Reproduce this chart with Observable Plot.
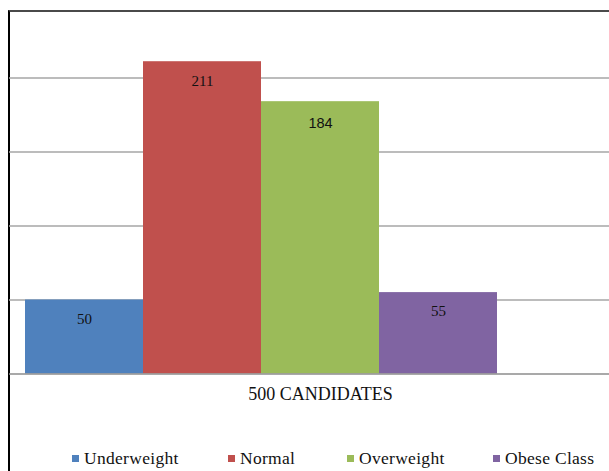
<!DOCTYPE html>
<html>
<head>
<meta charset="utf-8">
<script src="https://cdn.jsdelivr.net/npm/d3@7"></script>
<script src="https://cdn.jsdelivr.net/npm/@observablehq/plot@0.6"></script>
<style>
  html, body { margin: 0; padding: 0; background: #fff; overflow: hidden; }
  #wrap { position: relative; width: 609px; height: 471px; overflow: hidden; background: #fff; }
  #frame { position: absolute; left: 8px; top: 10px; width: 800px; height: 800px;
           border-left: 2px solid #000; border-top: 2px solid #4a4a4a; box-sizing: border-box; }
  #chart { position: absolute; left: 0; top: 0; width: 640px; }
  #chart svg { max-width: none !important; width: 640px !important; height: 420px !important; }
  #legend { position: absolute; top: 448px; left: 0; width: 609px; height: 22px;
            font-family: 'Liberation Serif', serif; font-size: 17.5px; letter-spacing: 0.3px;
            line-height: 20px; color: #111; white-space: nowrap; }
  .item { position: absolute; top: 0; display: flex; align-items: center; }
  .sw { width: 7px; height: 7px; margin-right: 5px; }
</style>
</head>
<body>
<div id="wrap">
  <div id="frame"></div>
  <div id="chart"></div>
  <div id="legend"></div>
</div>
<script>
const category = "500 CANDIDATES";
const series = ["Underweight", "Normal", "Overweight", "Obese Class"];
const values = [50, 211, 184, 55];
const colors = ["#4F81BD", "#C0504D", "#9BBB59", "#8064A2"];
const gridTicks = [50, 100, 150, 200];
const slots = [...series, ""]; // Excel reserves a fifth (empty) slot in the group

const data = series.map((s, i) => ({category, series: s, value: values[i]}));
const serifData = data.filter(d => d.series !== "Overweight");
const sansData = data.filter(d => d.series === "Overweight");
const serif = "'Liberation Serif', serif";

const chart = Plot.plot({
  width: 640,
  height: 420,
  marginLeft: 9,
  marginRight: 9,
  marginTop: 77.5,
  marginBottom: 46.5,
  style: {background: "transparent", overflow: "visible"},
  fx: {domain: [category], padding: 0, label: null, round: false},
  x: {domain: slots, paddingInner: 0, paddingOuter: 0.1356, round: false, axis: null},
  y: {domain: [0, 200], axis: null},
  color: {domain: series, range: colors},
  marks: [
    Plot.ruleY(gridTicks, {stroke: "#A6A6A6", strokeWidth: 1.5}),
    Plot.barY(data, {fx: "category", x: "series", y: "value", fill: "series"}),
    Plot.ruleY([0], {stroke: "#8c8c8c", strokeWidth: 1.5}),
    Plot.text(serifData, {fx: "category", x: "series", y: "value", text: d => String(d.value), dy: 19,
      fontSize: 15, fontFamily: serif, fill: "#111"}),
    Plot.text(sansData, {fx: "category", x: "series", y: "value", text: d => String(d.value), dy: 22,
      fontSize: 14.5, fontFamily: "'Liberation Sans', sans-serif", fill: "#111"}),
    Plot.axisFx({anchor: "bottom", tickSize: 0, tickPadding: 13, fontSize: 18, label: null,
      fontFamily: serif, fill: "#111"})
  ]
});
document.getElementById("chart").appendChild(chart);

const legend = document.getElementById("legend");
const legendX = [72, 228, 347, 493];
series.forEach((s, i) => {
  const it = document.createElement("div");
  it.className = "item";
  it.style.left = legendX[i] + "px";
  const sw = document.createElement("span");
  sw.className = "sw";
  sw.style.background = colors[i];
  const t = document.createElement("span");
  t.textContent = s;
  it.appendChild(sw);
  it.appendChild(t);
  legend.appendChild(it);
});
</script>
</body>
</html>
